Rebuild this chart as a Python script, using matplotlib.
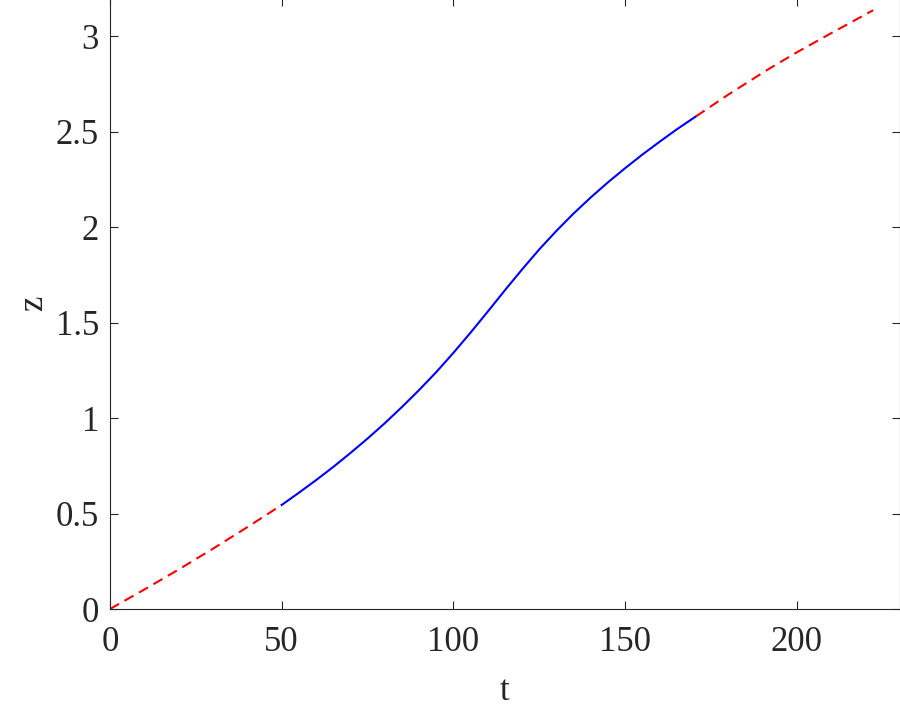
import matplotlib
matplotlib.use("Agg")
import matplotlib.pyplot as plt

# values
t_pre = [0, 10, 20, 30, 40, 50]
z_pre = [0, 0.102, 0.207, 0.316, 0.429, 0.545]

t_mid = [50, 55, 60, 65, 70, 75, 80, 85, 90, 95, 100, 105, 110, 115, 120, 125,
         130, 135, 140, 145, 150, 155, 160, 165, 170.6]
z_mid = [0.545, 0.609, 0.675, 0.744, 0.817, 0.893, 0.973, 1.058, 1.147, 1.241,
         1.342, 1.448, 1.558, 1.670, 1.779, 1.884, 1.981, 2.072, 2.156, 2.235,
         2.309, 2.380, 2.447, 2.512, 2.580]

t_post = [170.6, 180, 191.3, 200, 210, 222.2]
z_post = [2.580, 2.694, 2.823, 2.916, 3.016, 3.136]

plt.rcParams["font.family"] = ["Liberation Serif", "DejaVu Serif"]

fig = plt.figure(figsize=(9, 7.07), dpi=100)
ax = fig.add_axes([110 / 900, 98 / 707, 790 / 900, 611 / 707])

ax.plot(t_pre, z_pre, color="red", lw=1.5, linestyle=(0, (5, 3)))
ax.plot(t_mid, z_mid, color="blue", lw=1.5)
ax.plot(t_post, z_post, color="red", lw=1.5, linestyle=(0, (5, 3)))

ax.set_xlim(0, 230)
ax.set_ylim(0, 3.2)
ax.set_xticks([0, 50, 100, 150, 200])
ax.set_xticklabels(["0", "50", "100", "150", "200"])
ax.set_yticks([0, 0.5, 1, 1.5, 2, 2.5, 3])
ax.set_yticklabels(["0", "0.5", "1", "1.5", "2", "2.5", "3"])

ax.tick_params(direction="in", length=6, width=0.8, top=True, right=True,
               labelsize=25, colors="#262626")
ax.tick_params(axis="x", pad=12)
ax.tick_params(axis="y", pad=8)
for s in ax.spines.values():
    s.set_color("#262626")
    s.set_linewidth(0.8)

ax.set_xlabel("t", fontsize=25, color="#262626", labelpad=12)
ax.set_ylabel("z", fontsize=25, color="#262626", labelpad=4)

fig.savefig("out.png", dpi=100)
